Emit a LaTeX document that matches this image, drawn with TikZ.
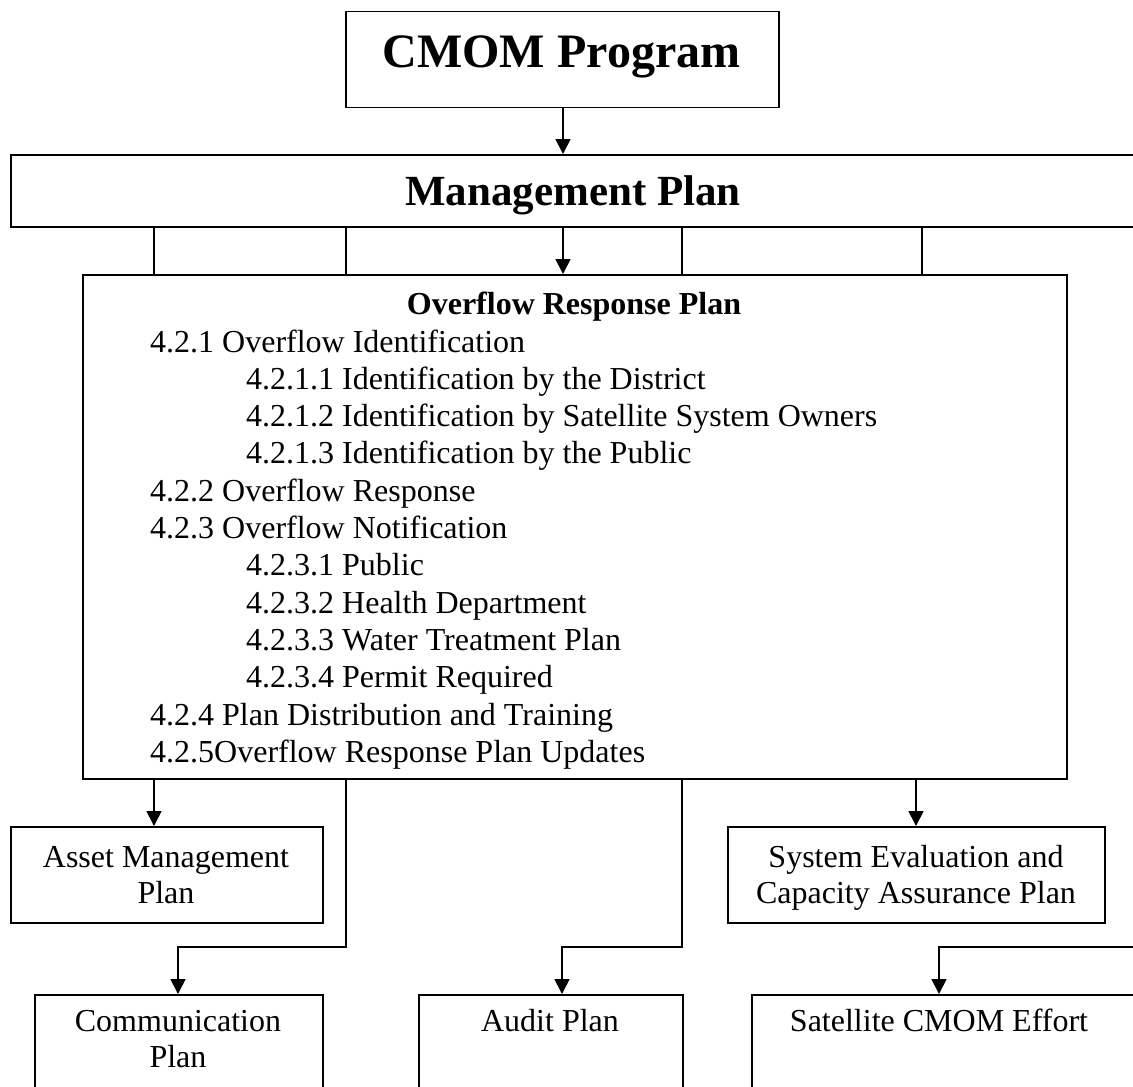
\documentclass[tikz,border=0pt]{standalone}
\usepackage{fontspec}
\setmainfont{Liberation Serif}
\usetikzlibrary{arrows.meta}
\begin{document}
\begin{tikzpicture}[x=1pt,y=-1pt,
  box/.style={draw, line width=1.7pt, inner sep=0pt, anchor=north west},
  txt/.style={font=\fontsize{32}{37}\selectfont, inner sep=0pt, anchor=base},
  item/.style={txt, anchor=base west},
  link/.style={line width=1.7pt},
  arr/.style={link, -{Triangle[length=15pt,width=15pt]}},
]
\useasboundingbox (0,0) rectangle (1133,1087);
\clip (0,0) rectangle (1133,1087);

% boxes
\node[box, minimum width=433pt, minimum height=96pt] (cmom) at (345,10.7) {};
\node[box, minimum width=1130pt, minimum height=72pt] (mp) at (10,154) {};
\node[box, minimum width=984pt, minimum height=504pt] (orp) at (82,274) {};
\node[box, minimum width=312pt, minimum height=96pt] (asset) at (10,826) {};
\node[box, minimum width=377pt, minimum height=96pt] (sys) at (727,826) {};
\node[box, minimum width=288pt, minimum height=130pt] (comm) at (34,994) {};
\node[box, minimum width=264pt, minimum height=130pt] (audit) at (418,994) {};
\node[box, minimum width=400pt, minimum height=130pt] (sat) at (751,994) {};

% titles
\node[txt, font=\fontsize{48}{54}\selectfont\bfseries] (cmom-t) at (561.5,67) {CMOM Program};
\node[txt, font=\fontsize{43}{48}\selectfont\bfseries] (mp-t) at (573,205) {Management Plan};
\node[txt, font=\fontsize{32}{37}\selectfont\bfseries] (orp-t) at (574,314) {Overflow Response Plan};

% contents of the overflow response plan
\foreach \x/\t [count=\i] in {
  150/4.2.1 Overflow Identification,
  246/4.2.1.1 Identification by the District,
  246/4.2.1.2 Identification by Satellite System Owners,
  246/4.2.1.3 Identification by the Public,
  150/4.2.2 Overflow Response,
  150/4.2.3 Overflow Notification,
  246/4.2.3.1 Public,
  246/4.2.3.2 Health Department,
  246/4.2.3.3 Water Treatment Plan,
  246/4.2.3.4 Permit Required,
  150/4.2.4 Plan Distribution and Training,
  150/4.2.5Overflow Response Plan Updates}
  \node[item] (orp-l\i) at (\x,{352+(\i-1)*37.3}) {\t};

% lower plans
\node[txt] (asset-t1) at (166,867) {Asset Management};
\node[txt] (asset-t2) at (166,903) {Plan};
\node[txt] (sys-t1) at (916,867) {System Evaluation and};
\node[txt] (sys-t2) at (916,903) {Capacity Assurance Plan};
\node[txt] (comm-t1) at (178,1031) {Communication};
\node[txt] (comm-t2) at (178,1067) {Plan};
\node[txt] (audit-t) at (550,1031) {Audit Plan};
\node[txt] (sat-t) at (939,1031) {Satellite CMOM Effort};

% drop points and junctions
\coordinate (d1) at (154,0);
\coordinate (d2) at (346,0);
\coordinate (d3) at (563,0);
\coordinate (d4) at (682,0);
\coordinate (d5) at (922,0);
\coordinate (b4) at (916,0);
\coordinate (jc) at (178,947);
\coordinate (ja) at (562,947);
\coordinate (js) at (939,947);
\coordinate (satin) at (1145,947);

% connectors
\draw[arr] (d3 |- cmom.south) -- (d3 |- mp.north);
\draw[link] (d1 |- mp.south) -- (d1 |- orp.north);
\draw[link] (d2 |- mp.south) -- (d2 |- orp.north);
\draw[arr] (d3 |- mp.south) -- (d3 |- orp.north);
\draw[link] (d4 |- mp.south) -- (d4 |- orp.north);
\draw[link] (d5 |- mp.south) -- (d5 |- orp.north);

\draw[arr] (d1 |- orp.south) -- (d1 |- asset.north);
\draw[arr] (b4 |- orp.south) -- (b4 |- sys.north);
\draw[arr] (d2 |- orp.south) |- (jc) -- (jc |- comm.north);
\draw[arr] (d4 |- orp.south) |- (ja) -- (ja |- audit.north);
\draw[arr] (satin) -- (js) -- (js |- sat.north);
\end{tikzpicture}
\end{document}
